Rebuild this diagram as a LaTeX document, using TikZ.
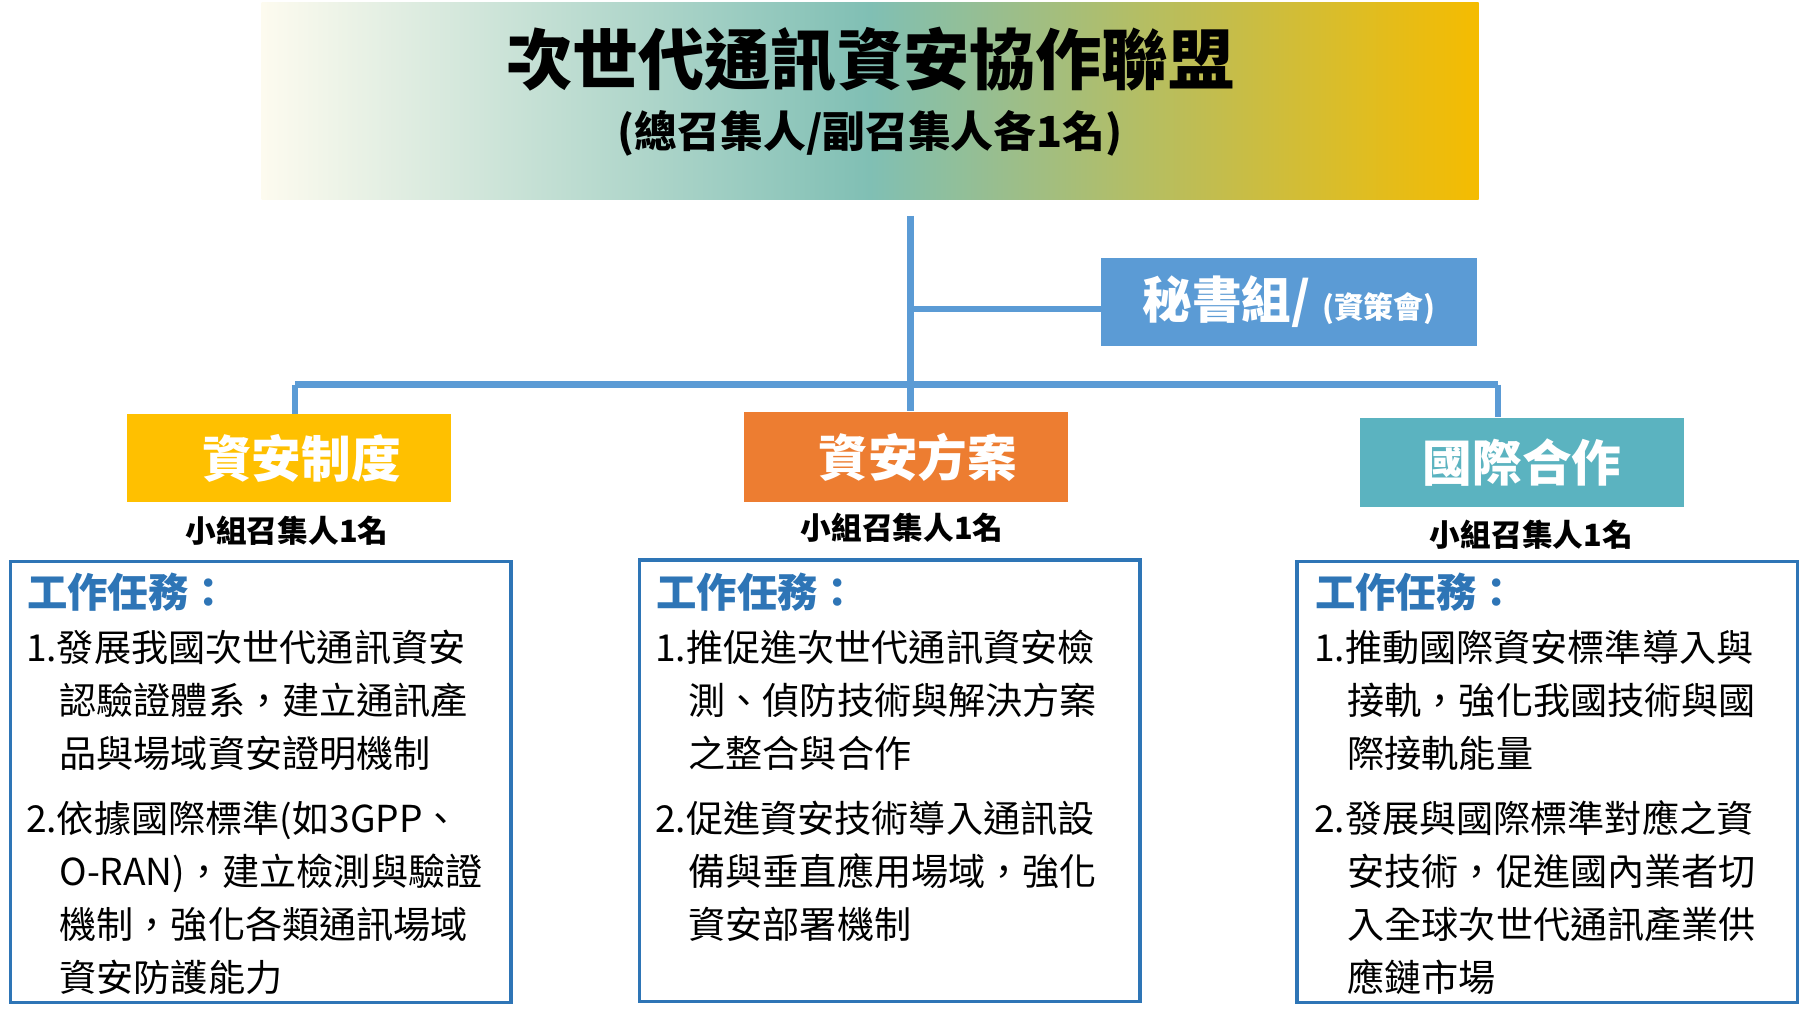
\documentclass[tikz,border=0pt]{standalone}
\usepackage{fontspec}
\setmainfont{Noto Sans CJK TC}
\usetikzlibrary{positioning}
\definecolor{titlegold}{HTML}{F5BC00}
\definecolor{titleteal}{HTML}{80BFB4}
\definecolor{titlecream}{HTML}{FDFBEF}
\definecolor{secblue}{HTML}{5B9BD5}
\definecolor{yel}{HTML}{FFC000}
\definecolor{ora}{HTML}{ED7D31}
\definecolor{cya}{HTML}{5BB3C0}
\definecolor{taskblue}{HTML}{2E75B6}
\definecolor{linkblue}{HTML}{5B9BD5}
\tikzset{
  group/.style={minimum width=2.82cm, minimum height=0.76cm, text=white,
    font=\fontsize{12.3}{14}\selectfont\bfseries},
  leader/.style={font=\fontsize{7.6}{9}\selectfont\bfseries},
  taskbox/.style={draw=taskblue, line width=0.8pt, minimum width=4.36cm, minimum height=3.84cm},
  tasktext/.style={align=left, anchor=north west, inner sep=0pt,
    font=\fontsize{9.2}{13.1}\selectfont},
  link/.style={draw=linkblue, line width=1.6pt}
}
\begin{document}
\begin{tikzpicture}[x=0.01cm, y=-0.01cm]
\useasboundingbox (0,0) rectangle (1568,889);

% title
\shade[left color=titlecream, right color=titlegold, middle color=titleteal] (228,2) rectangle (1288,174);
\node[font=\fontsize{16.4}{18}\selectfont\bfseries] (title) at (758,52) {次世代通訊資安協作聯盟};
\node[font=\fontsize{10.6}{12}\selectfont\bfseries] (sub) at (758,116) {(總召集人/副召集人各1名)};

% secretariat
\node[fill=secblue, minimum width=3.27cm, minimum height=0.76cm, text=white] (sec) at (1123,263)
  {\fontsize{12.3}{14}\selectfont\bfseries 秘書組/ \fontsize{7.4}{9}\selectfont(資策會)};

% groups
\node[group, fill=yel] (g1) at (252,399) {\hspace{6pt}資安制度};
\node[group, fill=ora, minimum height=0.78cm] (g2) at (789,398) {\hspace{6pt}資安方案};
\node[group, fill=cya, minimum height=0.78cm] (g3) at (1326,403) {國際合作};

\node[leader] (l1) at (250,462) {小組召集人1名};
\node[leader] (l2) at (786,460) {小組召集人1名};
\node[leader] (l3) at (1334,466) {小組召集人1名};

% connectors
\coordinate (top) at (793,188);
\coordinate (mid) at (793,269);
\coordinate (left) at (257,335);
\coordinate (right) at (1305,335);
\draw[link] (top) -- (top |- g2.north);
\draw[link] (mid) -- (mid -| sec.west);
\draw[link] (left) -- (right);
\draw[link] (left) -- (left |- g1.north);
\draw[link] (right) -- (right |- g3.north);

% task boxes
\node[taskbox] (t1) at (227,681) {};
\node[taskbox] (t2) at (775,680) {};
\node[taskbox] (t3) at (1348,681) {};

\foreach \b/\x in {t1/23, t2/571, t3/1145}
  \node[anchor=west, inner sep=0pt, text=taskblue, font=\fontsize{10}{12}\selectfont\bfseries] (\b h) at (\x,516) {工作任務：};

\node[tasktext] (t1a) at (22,548) {1.發展我國次世代通訊資安\\\hspace{0.9em}認驗證體系，建立通訊產\\\hspace{0.9em}品與場域資安證明機制\\[3.2pt]
2.依據國際標準(如3GPP、\\\hspace{0.9em}O-RAN)，建立檢測與驗證\\\hspace{0.9em}機制，強化各類通訊場域\\\hspace{0.9em}資安防護能力};
\node[tasktext] (t2a) at (570,548) {1.推促進次世代通訊資安檢\\\hspace{0.9em}測、偵防技術與解決方案\\\hspace{0.9em}之整合與合作\\[3.2pt]
2.促進資安技術導入通訊設\\\hspace{0.9em}備與垂直應用場域，強化\\\hspace{0.9em}資安部署機制};
\node[tasktext] (t3a) at (1144,548) {1.推動國際資安標準導入與\\\hspace{0.9em}接軌，強化我國技術與國\\\hspace{0.9em}際接軌能量\\[3.2pt]
2.發展與國際標準對應之資\\\hspace{0.9em}安技術，促進國內業者切\\\hspace{0.9em}入全球次世代通訊產業供\\\hspace{0.9em}應鏈市場};
\end{tikzpicture}
\end{document}
